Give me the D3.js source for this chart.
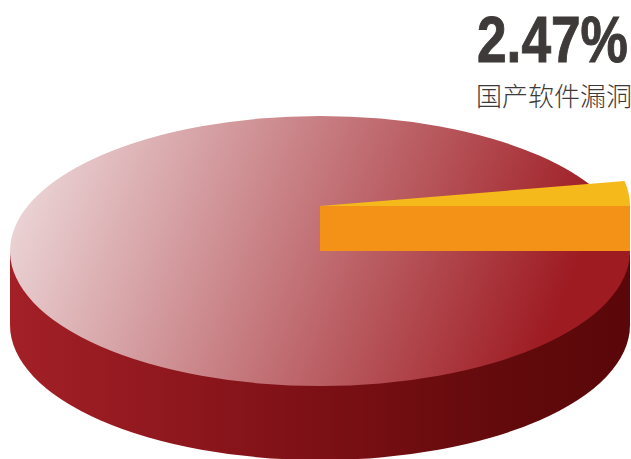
<!DOCTYPE html>
<html>
<head>
<meta charset="utf-8">
<script src="https://cdn.jsdelivr.net/npm/d3@7"></script>
<style>
  html, body { margin: 0; padding: 0; background: #fff; }
  svg { display: block; }
</style>
</head>
<body>
<div id="chart"></div>
<script>
// Données
const categories = ['国产软件漏洞'];
const shares = [2.47];
const bigLabel = '2.47%';

const W = 631, H = 459;
const cx = 320, cy = 251;
const rx = 310, ry = 135;
const depth = 74;   // épaisseur du disque
const lift = 45;    // hauteur de la part sortie
const k = ry / rx;

const svg = d3.select('#chart').append('svg')
    .attr('width', W)
    .attr('height', H);

// Dégradés
const defs = svg.append('defs');
function addGradient(id, stops, x1, y1, x2, y2) {
    const grad = defs.append('linearGradient')
        .attr('id', id)
        .attr('x1', x1).attr('y1', y1)
        .attr('x2', x2).attr('y2', y2);
    stops.forEach(s => grad.append('stop').attr('offset', s[0]).attr('stop-color', s[1]));
}
addGradient('topFace', [[0, '#ecd6d8'], [1, '#9e1b22']], -0.03, 0.5, 0.895, 0.659);
addGradient('sideFace', [[0, '#a32027'], [0.5, '#7c1015'], [0.8, '#620a0c'], [1, '#5a0709']], 0, 0, 1, 0);

// Échelle : la part est un peu plus ouverte que 2.47 % sur la référence
const angle = d3.scaleLinear().domain([0, 100]).range([0, 2 * Math.PI * 1.2]);
const east = Math.PI / 2;
const arc = d3.arc().innerRadius(0).outerRadius(rx);

// Tout le disque est dessiné dans un repère écrasé en y
const disc = svg.append('g')
    .attr('transform', `translate(${cx},${cy}) scale(1,${k})`);

// Côté
const side = d3.path();
side.moveTo(-rx, 0);
side.lineTo(-rx, depth / k);
side.arc(0, depth / k, rx, Math.PI, 0, true);
side.lineTo(rx, 0);
side.closePath();
disc.append('path').attr('d', side.toString()).attr('fill', 'url(#sideFace)');

// Dessus
disc.append('path')
    .attr('d', arc({ startAngle: 0, endAngle: 2 * Math.PI }))
    .attr('fill', 'url(#topFace)');

// Part sortie : face avant puis dessus
svg.append('rect')
    .attr('x', cx).attr('y', cy - lift)
    .attr('width', rx).attr('height', lift)
    .attr('fill', '#f49217');

svg.append('g')
    .attr('transform', `translate(${cx},${cy - lift}) scale(1,${k})`)
    .append('path')
    .attr('d', arc({ startAngle: east - angle(shares[0]), endAngle: east }))
    .attr('fill', '#f5b91b');

// Textes
const big = svg.append('text')
    .attr('font-family', '"Liberation Sans Narrow", "Liberation Sans", sans-serif')
    .attr('font-weight', 700)
    .attr('font-size', 64)
    .attr('fill', '#3e3a39')
    .attr('stroke', '#3e3a39')
    .attr('stroke-width', 1)
    .text(bigLabel);
const bigScale = 151 / big.node().getComputedTextLength();
big.attr('transform', `translate(477,62) scale(${bigScale},1)`);

svg.append('text')
    .attr('x', 476).attr('y', 106)
    .attr('font-family', '"Noto Sans CJK SC", sans-serif')
    .attr('font-weight', 300)
    .attr('font-size', 26)
    .attr('fill', '#3e3a39')
    .text(categories[0]);
</script>
</body>
</html>
